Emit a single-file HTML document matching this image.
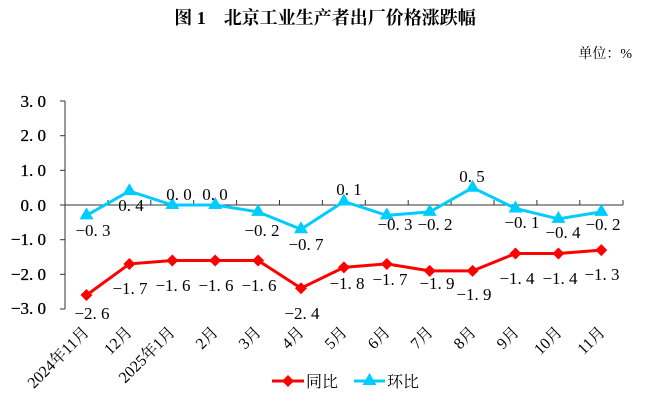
<!DOCTYPE html>
<html><head><meta charset="utf-8"><style>
body{margin:0;background:#fff;}
svg{display:block;}
text{font-family:"Liberation Serif","Noto Serif CJK SC",serif;}
.cj{font-family:"Liberation Serif","Noto Serif CJK SC","Noto Sans CJK SC",serif;}
</style></head><body>
<svg width="651" height="404" viewBox="0 0 651 404" xmlns="http://www.w3.org/2000/svg">
<text x="325" y="24" text-anchor="middle" font-size="18" font-weight="bold" class="cj">图 1　北京工业生产者出厂价格涨跌幅</text>
<text x="632" y="58" text-anchor="end" font-size="14" class="cj">单位：%</text>
<line x1="65" y1="101" x2="65" y2="309" stroke="#333" stroke-width="1"/>
<g stroke="#333">
<line x1="60" y1="101" x2="65" y2="101"/><line x1="60" y1="135.7" x2="65" y2="135.7"/>
<line x1="60" y1="170.3" x2="65" y2="170.3"/><line x1="60" y1="205" x2="65" y2="205"/>
<line x1="60" y1="239.7" x2="65" y2="239.7"/><line x1="60" y1="274.3" x2="65" y2="274.3"/>
<line x1="60" y1="309" x2="65" y2="309"/>
<line x1="65" y1="205" x2="623" y2="205"/>
<path d="M107.9 205v-5M150.8 205v-5M193.7 205v-5M236.6 205v-5M279.5 205v-5M322.4 205v-5M365.3 205v-5M408.2 205v-5M451.1 205v-5M494 205v-5M536.9 205v-5M579.8 205v-5M623 205v-5"/>
</g>
<g font-size="17" text-anchor="end" stroke="#000" stroke-width="0.3">
<text x="46" y="107">3. 0</text><text x="46" y="141">2. 0</text><text x="46" y="176">1. 0</text>
<text x="46" y="211">0. 0</text><text x="46" y="245">−1. 0</text><text x="46" y="280">−2. 0</text><text x="46" y="314">−3. 0</text>
</g>
<polyline fill="none" stroke="#ff0000" stroke-width="3" points="86.5,295.1 129.4,263.9 172.3,260.5 215.2,260.5 258.1,260.5 301,288.2 343.9,267.4 386.8,263.9 429.7,270.9 472.6,270.9 515.5,253.5 558.4,253.5 601.3,250.1"/>
<g fill="#ff0000">
<path d="M86.5 289l6 6-6 6-6-6z"/><path d="M129.4 258l6 6-6 6-6-6z"/><path d="M172.3 254.5l6 6-6 6-6-6z"/><path d="M215.2 254.5l6 6-6 6-6-6z"/><path d="M258.1 254.5l6 6-6 6-6-6z"/><path d="M301 282.2l6 6-6 6-6-6z"/><path d="M343.9 261.4l6 6-6 6-6-6z"/><path d="M386.8 258l6 6-6 6-6-6z"/><path d="M429.7 264.9l6 6-6 6-6-6z"/><path d="M472.6 264.9l6 6-6 6-6-6z"/><path d="M515.5 247.5l6 6-6 6-6-6z"/><path d="M558.4 247.5l6 6-6 6-6-6z"/><path d="M601.3 244.1l6 6-6 6-6-6z"/>
</g>
<polyline fill="none" stroke="#00ccff" stroke-width="3" points="86.5,215.4 129.4,191.1 172.3,205 215.2,205 258.1,211.9 301,229.3 343.9,201.5 386.8,215.4 429.7,211.9 472.6,187.7 515.5,208.5 558.4,218.9 601.3,211.9"/>
<g fill="#00ccff">
<path d="M86.5 207.4l7 12h-14z"/><path d="M129.4 183.1l7 12h-14z"/><path d="M172.3 197l7 12h-14z"/><path d="M215.2 197l7 12h-14z"/><path d="M258.1 203.9l7 12h-14z"/><path d="M301 221.3l7 12h-14z"/><path d="M343.9 193.5l7 12h-14z"/><path d="M386.8 207.4l7 12h-14z"/><path d="M429.7 203.9l7 12h-14z"/><path d="M472.6 179.7l7 12h-14z"/><path d="M515.5 200.5l7 12h-14z"/><path d="M558.4 210.9l7 12h-14z"/><path d="M601.3 203.9l7 12h-14z"/>
</g>
<g font-size="17" text-anchor="middle">
<text x="92" y="319">−2. 6</text><text x="130" y="294">−1. 7</text><text x="173" y="291">−1. 6</text><text x="216" y="291">−1. 6</text><text x="259" y="291">−1. 6</text><text x="302" y="319">−2. 4</text><text x="347" y="289">−1. 8</text><text x="390" y="285">−1. 7</text><text x="437" y="289">−1. 9</text><text x="474" y="300">−1. 9</text><text x="517" y="284">−1. 4</text><text x="560" y="284">−1. 4</text><text x="602" y="280">−1. 3</text>
<text x="93" y="236">−0. 3</text><text x="131" y="211">0. 4</text><text x="179" y="200">0. 0</text><text x="215" y="200">0. 0</text><text x="262" y="236">−0. 2</text><text x="306" y="250">−0. 7</text><text x="349" y="195">0. 1</text><text x="395" y="230">−0. 3</text><text x="435" y="230">−0. 2</text><text x="472" y="182">0. 5</text><text x="522" y="228">−0. 1</text><text x="563" y="238">−0. 4</text><text x="603" y="230">−0. 2</text>
</g>
<g font-size="16" text-anchor="end" class="cj">
<text transform="translate(90,333) rotate(-45)">2024年11月</text>
<text transform="translate(133,333) rotate(-45)">12月</text>
<text transform="translate(176,333) rotate(-45)">2025年1月</text>
<text transform="translate(219,333) rotate(-45)">2月</text>
<text transform="translate(262,333) rotate(-45)">3月</text>
<text transform="translate(305,333) rotate(-45)">4月</text>
<text transform="translate(348,333) rotate(-45)">5月</text>
<text transform="translate(391,333) rotate(-45)">6月</text>
<text transform="translate(434,333) rotate(-45)">7月</text>
<text transform="translate(477,333) rotate(-45)">8月</text>
<text transform="translate(520,333) rotate(-45)">9月</text>
<text transform="translate(563,333) rotate(-45)">10月</text>
<text transform="translate(606,333) rotate(-45)">11月</text>
</g>
<line x1="272" y1="381" x2="304" y2="381" stroke="#ff0000" stroke-width="3"/>
<path d="M288 375l6 6-6 6-6-6z" fill="#ff0000"/>
<text x="306" y="387" font-size="16" class="cj">同比</text>
<line x1="354" y1="381" x2="385" y2="381" stroke="#00ccff" stroke-width="3"/>
<path d="M369.5 373l7 12h-14z" fill="#00ccff"/>
<text x="387" y="387" font-size="16" class="cj">环比</text>
</svg>
</body></html>
